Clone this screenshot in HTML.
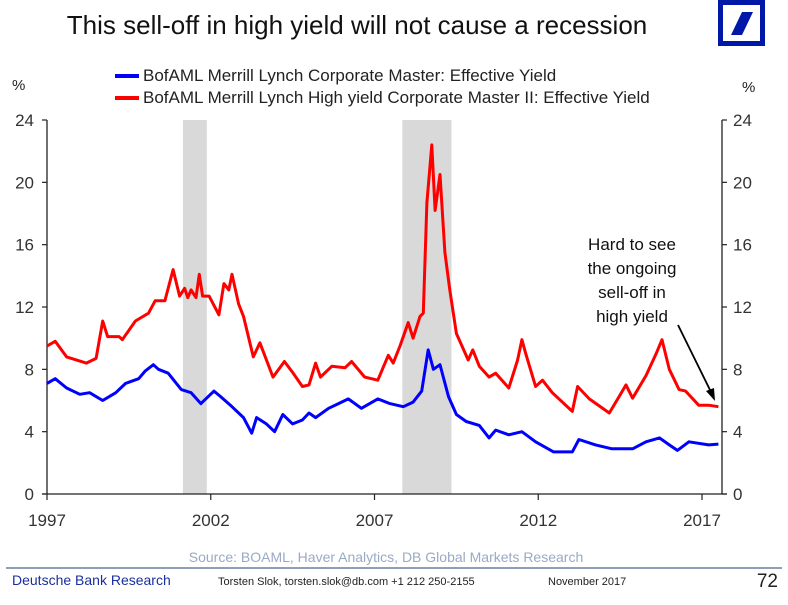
<!DOCTYPE html>
<html><head><meta charset="utf-8"><style>
body{margin:0;background:#fff;width:788px;height:600px;overflow:hidden;font-family:"Liberation Sans",sans-serif}
svg text{font-family:"Liberation Sans",sans-serif}
</style></head><body>
<svg width="788" height="600" viewBox="0 0 788 600">
<text x="357" y="34" font-size="26" text-anchor="middle" fill="#111">This sell-off in high yield will not cause a recession</text>
<g>
<rect x="720.5" y="2.5" width="42" height="41" fill="none" stroke="#0018a8" stroke-width="5"/>
<polygon points="742,12 753,12 742,35 731,35" fill="#0018a8"/>
</g>
<text x="12" y="90" font-size="15" fill="#222">%</text>
<text x="742" y="92" font-size="15" fill="#222">%</text>
<g>
<g><line x1="115" y1="76" x2="139" y2="76" stroke="#0000ff" stroke-width="4"/><text x="143" y="81" font-size="17" fill="#222">BofAML Merrill Lynch Corporate Master: Effective Yield</text></g>
<g><line x1="115" y1="98" x2="139" y2="98" stroke="#ff0000" stroke-width="4"/><text x="143" y="103" font-size="17" fill="#222">BofAML Merrill Lynch High yield Corporate Master II: Effective Yield</text></g>
</g>
<g id="plot"></g>
<text x="632" y="250" font-size="17" text-anchor="middle" fill="#111"><tspan x="632">Hard to see</tspan><tspan x="632" dy="24">the ongoing</tspan><tspan x="632" dy="24">sell-off in</tspan><tspan x="632" dy="24">high yield</tspan></text>
<line x1="678" y1="325" x2="712" y2="394" stroke="#000" stroke-width="1.8"/>
<polygon points="715,401 706,391 714,388" fill="#000"/>
<text x="386" y="562" font-size="14" text-anchor="middle" fill="#9aaac4">Source: BOAML, Haver Analytics, DB Global Markets Research</text>
<line x1="6" y1="568" x2="782" y2="568" stroke="#8da0b8" stroke-width="2"/>
<text x="12" y="585" font-size="14" fill="#1a2f9c">Deutsche Bank Research</text>
<text x="218" y="585" font-size="11" fill="#222">Torsten Slok, torsten.slok@db.com  +1 212 250-2155</text>
<text x="548" y="585" font-size="11" fill="#222">November  2017</text>
<text x="778" y="587" font-size="19" text-anchor="end" fill="#222">72</text>
</svg>
<script>
const yTicks=[0,4,8,12,16,20,24];
const xTicks=[1997,2002,2007,2012,2017];
const recessions=[[2001.15,2001.88],[2007.85,2009.35]];
const hyYears=[1997.0,1997.25,1997.6,1998.2,1998.5,1998.7,1998.85,1999.2,1999.3,1999.7,2000.1,2000.3,2000.6,2000.85,2001.05,2001.2,2001.3,2001.4,2001.55,2001.65,2001.75,2001.95,2002.25,2002.4,2002.55,2002.65,2002.85,2003.0,2003.3,2003.5,2003.9,2004.25,2004.5,2004.8,2005.0,2005.2,2005.35,2005.7,2006.1,2006.3,2006.7,2007.1,2007.42,2007.57,2007.78,2008.03,2008.18,2008.39,2008.49,2008.6,2008.75,2008.85,2009.0,2009.15,2009.3,2009.5,2009.86,2010.0,2010.2,2010.5,2010.7,2011.1,2011.37,2011.5,2011.62,2011.92,2012.13,2012.43,2013.04,2013.2,2013.56,2014.17,2014.47,2014.68,2014.88,2015.29,2015.6,2015.78,2016.0,2016.3,2016.5,2016.9,2017.2,2017.5];
const hyValues=[9.5,9.8,8.8,8.4,8.7,11.1,10.1,10.1,9.9,11.1,11.6,12.4,12.4,14.4,12.7,13.2,12.6,13.1,12.6,14.1,12.7,12.7,11.5,13.5,13.1,14.1,12.2,11.4,8.8,9.7,7.5,8.5,7.8,6.9,7.0,8.4,7.5,8.2,8.1,8.5,7.5,7.3,8.9,8.4,9.5,11.0,10.0,11.4,11.6,18.7,22.4,18.2,20.5,15.5,13.1,10.3,8.6,9.25,8.2,7.5,7.75,6.8,8.6,9.9,9.0,6.9,7.3,6.5,5.3,6.9,6.1,5.2,6.25,7.0,6.15,7.6,9.0,9.9,8.0,6.7,6.6,5.7,5.7,5.6];
const igYears=[1997.0,1997.25,1997.6,1998.0,1998.3,1998.7,1999.1,1999.4,1999.8,2000.0,2000.25,2000.4,2000.7,2001.1,2001.4,2001.7,2002.1,2002.3,2002.6,2003.0,2003.25,2003.4,2003.7,2003.95,2004.2,2004.5,2004.8,2005.0,2005.2,2005.6,2005.9,2006.2,2006.6,2007.1,2007.47,2007.88,2008.18,2008.44,2008.64,2008.8,2009.0,2009.26,2009.5,2009.8,2010.2,2010.5,2010.7,2011.1,2011.5,2011.92,2012.47,2013.04,2013.24,2013.75,2014.25,2014.88,2015.29,2015.7,2016.0,2016.25,2016.6,2017.2,2017.5];
const igValues=[7.1,7.4,6.8,6.4,6.5,6.0,6.5,7.1,7.4,7.9,8.3,8.0,7.75,6.7,6.5,5.8,6.6,6.25,5.7,4.9,3.9,4.9,4.5,4.0,5.1,4.5,4.75,5.2,4.9,5.5,5.8,6.1,5.5,6.1,5.8,5.6,5.9,6.6,9.25,8.0,8.3,6.25,5.1,4.65,4.4,3.6,4.1,3.8,4.0,3.35,2.7,2.7,3.5,3.15,2.9,2.9,3.35,3.6,3.15,2.8,3.35,3.15,3.2];
const NS='http://www.w3.org/2000/svg';
const L=47,R=722,Y0=494,Y24=120;
function xs(yr){return 47+(yr-1997)*(702-47)/20;}
function ys(v){return Y0-(v/24)*(Y0-Y24);}
const g=document.getElementById('plot');
function mk(t,a){const e=document.createElementNS(NS,t);for(const k in a)e.setAttribute(k,a[k]);g.appendChild(e);return e;}
recessions.forEach((r,i)=>{
 const e=mk('rect',{x:xs(r[0]),y:Y24,width:xs(r[1])-xs(r[0]),height:Y0-Y24,fill:'#d9d9d9'});
 
 
});
let a=mk('line',{x1:L,y1:Y24,x2:L,y2:Y0,stroke:'#222','stroke-width':1.3});


a=mk('line',{x1:R,y1:Y24,x2:R,y2:Y0,stroke:'#222','stroke-width':1.3});


a=mk('line',{x1:L-5,y1:Y0,x2:R+5,y2:Y0,stroke:'#222','stroke-width':1.3});


yTicks.forEach(v=>{
 const y=ys(v);
 mk('line',{x1:L-5,y1:y,x2:L,y2:y,stroke:'#222','stroke-width':1.2});
 mk('line',{x1:R,y1:y,x2:R+5,y2:y,stroke:'#222','stroke-width':1.2});
 let t=mk('text',{x:L-13,y:y+6,'font-size':17,'text-anchor':'end',fill:'#333'});t.textContent=v;
 
 
 t=mk('text',{x:R+11,y:y+6,'font-size':17,fill:'#333'});t.textContent=v;
 
 
});
xTicks.forEach(v=>{
 const x=xs(v);
 mk('line',{x1:x,y1:Y0,x2:x,y2:Y0+6,stroke:'#222','stroke-width':1.2});
 const t=mk('text',{x:x,y:Y0+32,'font-size':17,'text-anchor':'middle',fill:'#333'});t.textContent=v;
 
 
});
function line(xsArr,vs,col,name){
 const d=xsArr.map((yr,i)=>(i?'L':'M')+xs(yr).toFixed(1)+' '+ys(vs[i]).toFixed(1)).join(' ');
 const p=mk('path',{d:d,fill:'none',stroke:col,'stroke-width':3,'stroke-linejoin':'round'});
 
 
}
line(hyYears,hyValues,'#ff0000','high-yield-line');
line(igYears,igValues,'#0000ff','corporate-line');
</script>
</body></html>
